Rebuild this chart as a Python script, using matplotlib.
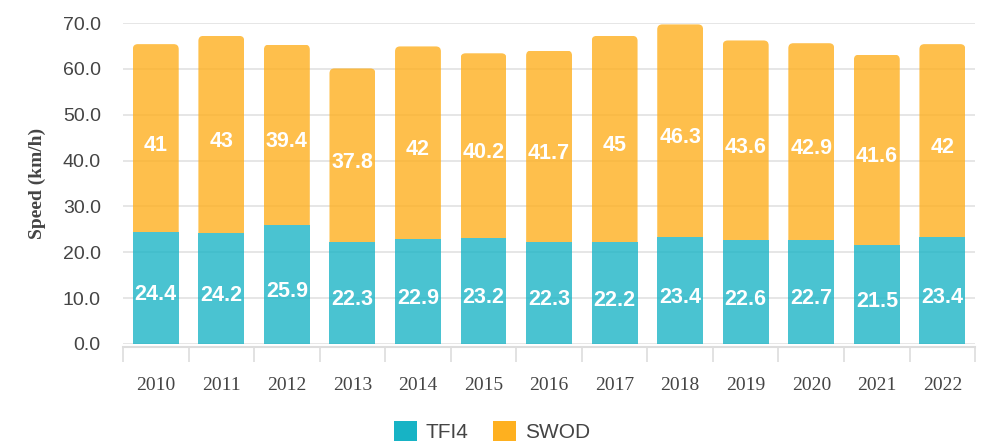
import matplotlib
matplotlib.use("Agg")
import matplotlib.pyplot as plt
from matplotlib.patches import FancyBboxPatch, Patch, Rectangle
import numpy as np

years = ["2010", "2011", "2012", "2013", "2014", "2015", "2016", "2017", "2018", "2019", "2020", "2021", "2022"]
tfi4 = [24.4, 24.2, 25.9, 22.3, 22.9, 23.2, 22.3, 22.2, 23.4, 22.6, 22.7, 21.5, 23.4]
swod = [41, 43, 39.4, 37.8, 42, 40.2, 41.7, 45, 46.3, 43.6, 42.9, 41.6, 42]
series_names = ["TFI4", "SWOD"]
yticks = [0, 10, 20, 30, 40, 50, 60, 70]

c_tfi = "#17B3C5"
c_swod = "#FEB01F"

fig = plt.figure(figsize=(9.84, 4.43), dpi=100)
ax = fig.add_axes([0.125, 0.2235, 0.866, 0.7245])

for s in ["top", "right", "left"]:
    ax.spines[s].set_visible(False)
ax.spines["bottom"].set_position(("outward", 2))
ax.spines["bottom"].set_color("#DDDDDD")
ax.spines["bottom"].set_linewidth(1.5)

x = np.arange(len(years))
w = 0.7
ax.set_xlim(-0.5, len(years) - 0.5)
ax.set_ylim(0, 70)

b1 = ax.bar(x, tfi4, w, color=c_tfi, alpha=0.78, zorder=3, linewidth=0)
b2 = ax.bar(x, swod, w, bottom=tfi4, color=c_swod, alpha=0.8, zorder=3, linewidth=0)

# rounded top corners for the stacked top bars
xpp = 13 / 852.0
ypp = 70 / 321.0
r = 5 * xpp
for rect in b2:
    rect.set_visible(False)
    bx, by = rect.get_x(), rect.get_y()
    bw, bh = rect.get_width(), rect.get_height()
    p = FancyBboxPatch((bx, by - 3), bw, bh + 3,
                       boxstyle=f"round,pad=0,rounding_size={r}",
                       mutation_aspect=ypp / xpp,
                       facecolor=c_swod, alpha=0.8, edgecolor="none", zorder=3)
    ax.add_patch(p)
    clip = Rectangle((bx, by), bw, bh, transform=ax.transData)
    p.set_clip_path(clip)

lab_kw = dict(ha="center", va="center", color="white", fontsize=15.5, fontweight="bold",
              family="Liberation Sans", zorder=5, textcoords="offset points")
for rect, v in zip(b1, tfi4):
    ax.annotate(f"{v:g}", (rect.get_x() + rect.get_width()/2, v/2), xytext=(0, -5), **lab_kw)
for rect, v, base in zip(b2, swod, tfi4):
    ax.annotate(f"{v:g}", (rect.get_x() + rect.get_width()/2, base + v/2), xytext=(0, -5), **lab_kw)

ax.set_yticks(yticks)
ax.set_yticklabels([f"{t:.1f}" for t in yticks])
ax.yaxis.grid(True, color="#E2E2E2", linewidth=1.2, zorder=0)
ax.tick_params(axis="y", length=0, pad=16)

ax.set_xticks(x)
ax.set_xticklabels(years)
ax.tick_params(axis="x", which="major", length=0, pad=22)
ax.set_xticks(np.arange(-0.5, len(years)), minor=True)
ax.tick_params(axis="x", which="minor", length=11, width=1.2, color="#DDDDDD")

for lbl in ax.get_yticklabels():
    lbl.set_fontfamily("Liberation Sans")
    lbl.set_fontsize(14)
    lbl.set_color("#444444")
for lbl in ax.get_xticklabels():
    lbl.set_fontfamily("Liberation Serif")
    lbl.set_fontsize(14)
    lbl.set_color("#444444")

ax.set_ylabel("Speed (km/h)", family="Liberation Serif", fontweight="bold", fontsize=14,
              color="#444444", labelpad=12)

handles = [Patch(facecolor=c_tfi, edgecolor="none"), Patch(facecolor=c_swod, edgecolor="none")]
fig.legend(handles, series_names, loc="lower center", bbox_to_anchor=(0.5, -0.04), ncol=2, frameon=False,
           prop={"family": "Liberation Sans", "size": 15}, handlelength=1.1, handleheight=1.1,
           handletextpad=0.4, columnspacing=1.2, labelcolor="#444444")

fig.savefig("out.png", dpi=100)
